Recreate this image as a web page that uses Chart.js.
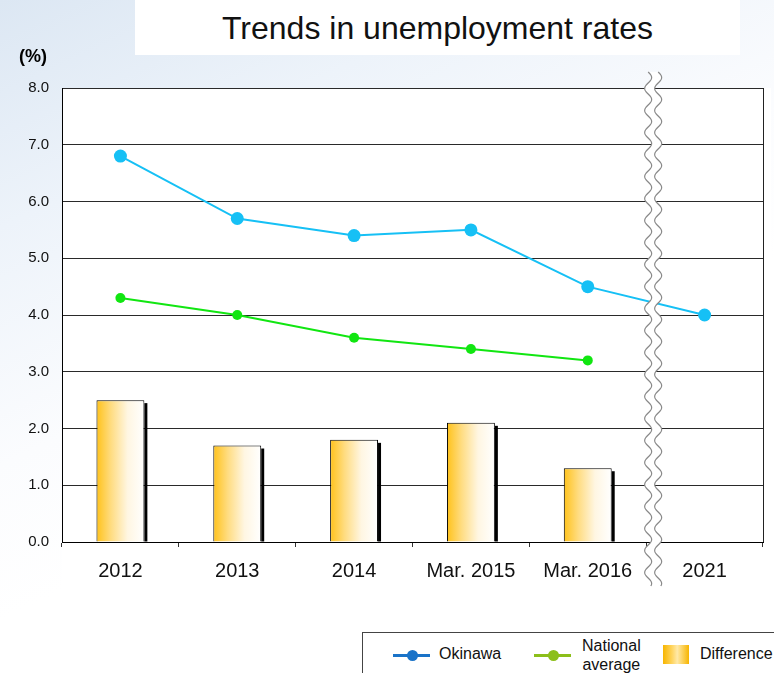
<!DOCTYPE html>
<html>
<head>
<meta charset="utf-8">
<script src="https://cdn.jsdelivr.net/npm/chart.js@4/dist/chart.umd.min.js"></script>
<style>
  html, body { margin:0; padding:0; }
  body {
    width:774px; height:673px; overflow:hidden; position:relative;
    font-family: "Liberation Sans", Arial, sans-serif;
    background: linear-gradient(155deg, #dce7f3 0%, #edf3fa 22%, #fbfcfe 45%, #ffffff 60%);
  }
  #title {
    position:absolute; left:135px; top:0; width:605px; height:55px;
    background:#fff; text-align:center; font-size:32px; line-height:56px; color:#111;
  }
  #unit { position:absolute; left:19px; top:46px; font-size:18px; font-weight:bold; }
  #wrap { position:absolute; left:0; top:0; width:774px; height:673px; }
  #legend {
    position:absolute; left:362px; top:632px; width:420px; height:60px;
    border:1px solid #444; background:#fff; font-size:16px; color:#111;
  }
  .li { position:absolute; }
  .ln { position:absolute; height:3px; width:37px; }
  .dot { position:absolute; width:11px; height:11px; border-radius:50%; }
</style>
</head>
<body>
<div id="wrap"><canvas id="c" width="774" height="673"></canvas></div>
<div id="title">Trends in unemployment rates</div>
<div id="unit">(%)</div>
<div id="legend">
  <div class="ln" style="left:30px;top:21px;background:#1a73c8"></div>
  <div class="dot" style="left:44px;top:17px;background:#1a73c8"></div>
  <div class="li" style="left:76px;top:12px">Okinawa</div>
  <div class="ln" style="left:171px;top:21px;background:#8cbf1a"></div>
  <div class="dot" style="left:185px;top:17px;background:#8cbf1a"></div>
  <div class="li" style="left:219px;top:3px;text-align:center;line-height:19px">National<br>average</div>
  <div class="li" style="left:300px;top:12px;width:26px;height:19px;background:linear-gradient(90deg,#f7b500 0%,#ffd560 35%,#ffe9a8 55%,#f7b500 100%)"></div>
  <div class="li" style="left:337px;top:12px">Difference</div>
</div>
<script>
// data
const categories = ['2012', '2013', '2014', 'Mar. 2015', 'Mar. 2016', '2021'];
const okinawa = [6.8, 5.7, 5.4, 5.5, 4.5, 4.0];
const national = [4.3, 4.0, 3.6, 3.4, 3.2, null];
const difference = [2.5, 1.7, 1.8, 2.1, 1.3, null];
const yMin = 0, yMax = 8, yStep = 1;

const BAR_PCT = 0.41;
const FONT = '"Liberation Sans", Arial, sans-serif';

// gold -> white gradient across each bar
function barFill(ctx) {
  const chart = ctx.chart;
  const xs = chart.scales.x;
  if (!xs || !chart.chartArea) return '#ffc21a';
  const cx = xs.getPixelForValue(ctx.dataIndex);
  const w = xs.width / categories.length * BAR_PCT;
  const g = chart.ctx.createLinearGradient(cx - w / 2, 0, cx + w / 2, 0);
  g.addColorStop(0, '#ffc21a');
  g.addColorStop(0.3, '#ffdc80');
  g.addColorStop(0.65, '#fff6e2');
  g.addColorStop(1, '#ffffff');
  return g;
}

const plotBg = {
  id: 'plotBg',
  beforeDraw(chart) {
    const { ctx, chartArea: a } = chart;
    ctx.save();
    ctx.fillStyle = '#fff';
    ctx.fillRect(a.left, a.top, a.right - a.left + 8, a.bottom - a.top + 55);
    ctx.restore();
  }
};

// black drop shadow on right side of bars
const barShadow = {
  id: 'barShadow',
  beforeDatasetDraw(chart, args) {
    const ds = chart.data.datasets[args.index];
    if (ds.type !== 'bar') return;
    const ctx = chart.ctx;
    ctx.save();
    ctx.fillStyle = '#000';
    args.meta.data.forEach((el, i) => {
      if (ds.data[i] == null) return;
      const p = el.getProps(['x', 'y', 'base', 'width'], true);
      ctx.fillRect(p.x + p.width / 2, p.y + 3, 3, p.base - p.y - 3);
    });
    ctx.restore();
  }
};

// right frame line + wavy axis break between Mar. 2016 and 2021
const frameAndBreak = {
  id: 'frameAndBreak',
  afterDraw(chart) {
    const { ctx, chartArea: a } = chart;
    const xs = chart.scales.x;
    ctx.save();
    ctx.strokeStyle = '#222';
    ctx.lineWidth = 1;
    ctx.beginPath();
    ctx.moveTo(a.right + 0.5, a.top);
    ctx.lineTo(a.right + 0.5, a.bottom);
    ctx.stroke();

    const cx = (xs.getPixelForValue(4) + xs.getPixelForValue(5)) / 2 + 7;
    const y0 = 72, y1 = 586, half = 5, amp = 3.5, per = 22;
    const wx = (y, s) => cx + s * half + amp * Math.sin((y - y0) / per * 2 * Math.PI);
    ctx.beginPath();
    for (let y = y0; y <= y1; y++) ctx.lineTo(wx(y, -1), y);
    for (let y = y1; y >= y0; y--) ctx.lineTo(wx(y, 1), y);
    ctx.closePath();
    ctx.fillStyle = '#fff';
    ctx.fill();
    ctx.strokeStyle = '#8a8a8a';
    ctx.lineWidth = 1.2;
    ctx.beginPath();
    for (let y = y0; y <= y1; y++) ctx.lineTo(wx(y, -1), y);
    ctx.stroke();
    ctx.beginPath();
    for (let y = y0; y <= y1; y++) ctx.lineTo(wx(y, 1), y);
    ctx.stroke();
    ctx.restore();
  }
};

new Chart(document.getElementById('c'), {
  data: {
    labels: categories,
    datasets: [
      {
        type: 'line', label: 'Okinawa', data: okinawa, order: 1,
        borderColor: '#16c0f5', backgroundColor: '#16c0f5', borderWidth: 2,
        pointRadius: 6.5, pointBorderWidth: 0, tension: 0
      },
      {
        type: 'line', label: 'National average', data: national, order: 1,
        borderColor: '#11e611', backgroundColor: '#11e611', borderWidth: 2,
        pointRadius: 5, pointBorderWidth: 0, tension: 0
      },
      {
        type: 'bar', label: 'Difference', data: difference, order: 2,
        backgroundColor: barFill, borderColor: '#000', borderWidth: 1,
        barPercentage: BAR_PCT, categoryPercentage: 1
      }
    ]
  },
  options: {
    responsive: false,
    animation: false,
    layout: { padding: { left: 0, top: 88, right: 11, bottom: 0 } },
    plugins: { legend: { display: false }, tooltip: { enabled: false } },
    scales: {
      x: {
        offset: true,
        grid: { display: true, drawOnChartArea: false, offset: true, tickLength: 5, color: '#333' },
        border: { color: '#000', width: 1 },
        ticks: { color: '#111', font: { family: FONT, size: 20 }, padding: 12, maxRotation: 0 },
        afterFit(s) { s.height = 131; }
      },
      y: {
        min: yMin, max: yMax,
        grid: { color: '#2a2a2a', drawTicks: false },
        border: { color: '#000', width: 1 },
        ticks: {
          stepSize: yStep, color: '#111', padding: 13,
          font: { family: FONT, size: 15 },
          callback: v => v.toFixed(1)
        },
        afterFit(s) { s.width = 62; }
      }
    }
  },
  plugins: [plotBg, barShadow, frameAndBreak]
});
</script>
</body>
</html>
